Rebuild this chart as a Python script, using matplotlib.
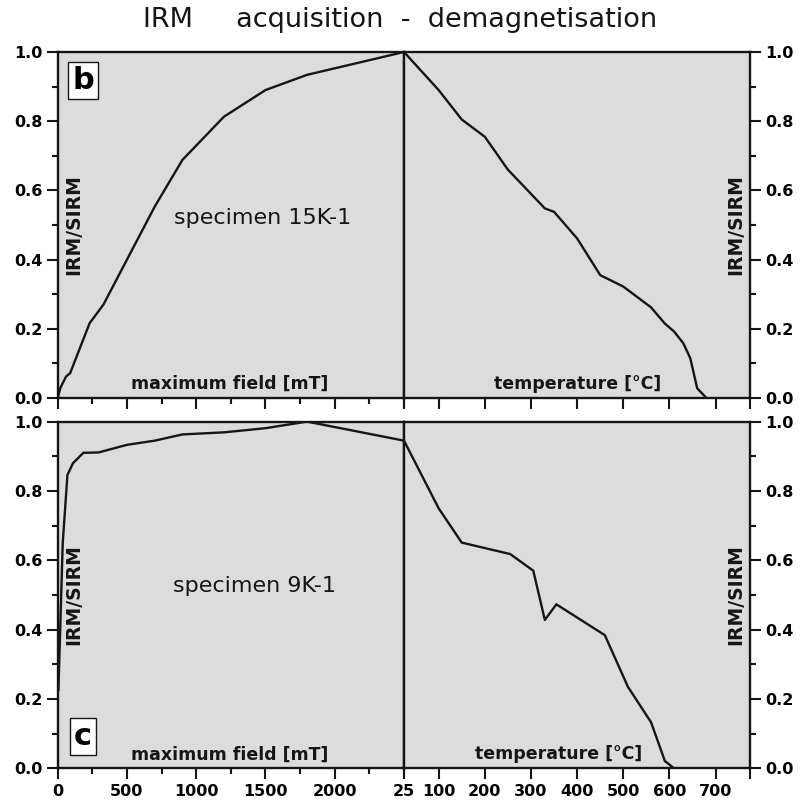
import numpy as np
import matplotlib
matplotlib.use('Agg')
import matplotlib.pyplot as plt

# specimen 15K-1
field_15k = [0, 20, 60, 90, 150, 230, 330, 700, 900, 1200, 1500, 1800, 2500]
irm_15k = [0, 0.03, 0.062, 0.072, 0.134, 0.216, 0.27, 0.553, 0.688, 0.813, 0.89, 0.934, 1.0]
temp_15k = [25, 100, 150, 200, 250, 330, 350, 400, 450, 500, 560, 590, 610, 630, 645, 660, 680]
rem_15k = [1.0, 0.89, 0.805, 0.755, 0.66, 0.548, 0.538, 0.461, 0.355, 0.322, 0.262, 0.215,
           0.192, 0.158, 0.115, 0.028, 0.0]

# specimen 9K-1
field_9k = [5, 36, 70, 110, 185, 295, 500, 700, 900, 1200, 1500, 1800, 2500]
irm_9k = [0.226, 0.649, 0.846, 0.88, 0.910, 0.911, 0.933, 0.945, 0.963, 0.969, 0.981, 1.0, 0.945]
temp_9k = [25, 100, 150, 255, 305, 330, 355, 460, 510, 560, 590, 610]
rem_9k = [0.945, 0.75, 0.651, 0.618, 0.570, 0.428, 0.473, 0.384, 0.235, 0.133, 0.021, 0.0]

field_ticks = [0, 500, 1000, 1500, 2000, 2500]
field_labels = ['0', '500', '1000', '1500', '2000', '']
temp_ticks = [25, 100, 200, 300, 400, 500, 600, 700, 775]
temp_labels = ['25', '100', '200', '300', '400', '500', '600', '700', '']
y_ticks = [0, 0.2, 0.4, 0.6, 0.8, 1.0]

BG = '#dcdcdc'
INK = '#151515'

plt.rcParams['font.family'] = 'DejaVu Sans'
fig = plt.figure(figsize=(8.04, 8.0), dpi=100)

L, M, R = 0.0718, 0.5025, 0.934
W = M - L
rows = [(0.5025, 0.935 - 0.5025), (0.0396, 0.473 - 0.0396)]
panels = [
    (field_15k, irm_15k, temp_15k, rem_15k, 'specimen 15K-1', 'b', (1480, 0.52), (184, 0.917), 400),
    (field_9k, irm_9k, temp_9k, rem_9k, 'specimen 9K-1', 'c', (1420, 0.525), (184, 0.092), 360),
]

tick_font = dict(fontsize=11.5, fontweight='bold')

for i, (fx, fy, tx, ty, name, letter, name_pos, letter_pos, tlab_x) in enumerate(panels):
    bottom, height = rows[i]
    axl = fig.add_axes([L, bottom, W, height])
    axr = fig.add_axes([M, bottom, W, height])
    for ax in (axl, axr):
        ax.set_facecolor(BG)
        ax.set_ylim(0, 1.0)
        for s in ax.spines.values():
            s.set_linewidth(1.7)
            s.set_color(INK)
        ax.tick_params(which='major', length=8, width=1.5, color=INK, pad=3)
        ax.tick_params(which='minor', length=4.5, width=1.5, color=INK)
        ax.set_yticks(y_ticks)
        ax.set_yticks(np.arange(0.1, 1.0, 0.2), minor=True)

    axl.plot(fx, fy, color=INK, lw=1.7)
    axl.set_xlim(0, 2500)
    axl.set_xticks(field_ticks)
    axl.set_xticks(np.arange(250, 2500, 500), minor=True)
    axl.set_yticklabels(['%.1f' % v for v in y_ticks], **tick_font)

    axr.plot(tx, ty, color=INK, lw=1.7)
    axr.set_xlim(25, 775)
    axr.set_xticks(temp_ticks)
    axr.yaxis.tick_right()
    axr.yaxis.set_ticks_position('right')
    axr.set_yticklabels(['%.1f' % v for v in y_ticks], **tick_font)

    if i == 1:
        axl.set_xticklabels(field_labels, **tick_font)
        axr.set_xticklabels(temp_labels, **tick_font)
    else:
        axl.set_xticklabels([])
        axr.set_xticklabels([])

    lab = dict(fontsize=12.5, fontweight='bold', color=INK)
    axl.text(1242, 0.04, 'maximum field [mT]', ha='center', va='center', **lab)
    axr.text(tlab_x, 0.04, 'temperature [°C]', ha='center', va='center', **lab)
    ylab = dict(fontsize=13.5, fontweight='bold', color=INK, rotation=90,
                ha='center', va='center')
    axl.text(0.045, 0.5, 'IRM/SIRM', transform=axl.transAxes, **ylab)
    axr.text(0.957, 0.5, 'IRM/SIRM', transform=axr.transAxes, **ylab)
    axl.text(name_pos[0], name_pos[1], name, ha='center', va='center', fontsize=16, color=INK)
    axl.text(letter_pos[0], letter_pos[1], letter, ha='center', va='center', fontsize=22,
             fontweight='bold', color='black',
             bbox=dict(boxstyle='square,pad=0.14', fc='white', ec=INK, lw=1.0))

fig.text(0.4975, 0.975, 'IRM     acquisition  -  demagnetisation', ha='center', va='center',
         fontsize=19.5, color=INK)

fig.savefig('out.png', dpi=100)
